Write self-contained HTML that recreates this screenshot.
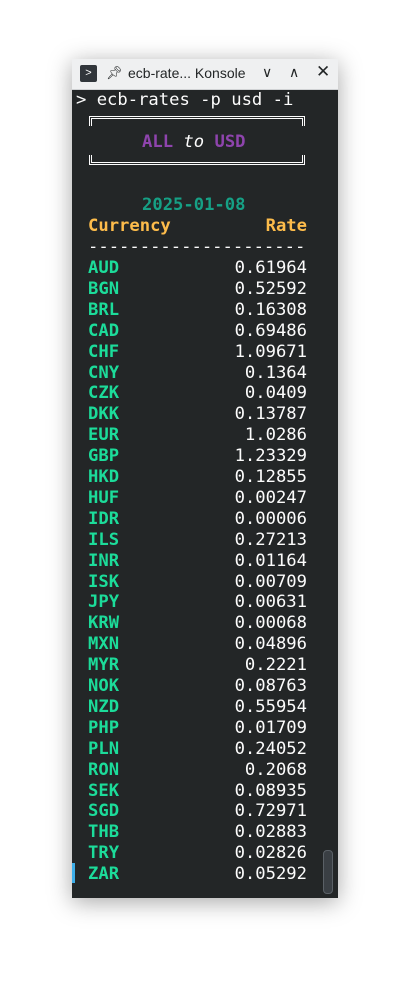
<!DOCTYPE html>
<html><head><meta charset="utf-8">
<style>
body{margin:0;width:411px;height:984px;background:#fff;position:relative;overflow:hidden;font-family:"Liberation Sans",sans-serif}
#win{position:absolute;left:72px;top:59px;width:266px;height:839px;box-shadow:0 4px 22px rgba(0,0,0,0.35);background:#232627}
#title{position:absolute;left:0;top:0;width:266px;height:30px;background:#eff0f1;border-bottom:1px solid #d0d2d4}
.t{position:absolute;font-family:"DejaVu Sans Mono","Liberation Mono",monospace;font-size:17.2px;line-height:21px;white-space:pre;color:#fcfcfc}
.cur{color:#1cdc9a;font-weight:bold}
.hd{color:#fdbc4b;font-weight:bold}
</style></head><body>
<div id="win">
 <div id="title">
  <div style="position:absolute;left:8px;top:6px;width:17px;height:17px;background:#31363b;border-radius:2px;color:#fff;font-size:11px;line-height:17px;text-align:center">&gt;</div>
  <div style="position:absolute;left:34px;top:6px;font-size:13px;color:#232627">📌&#xFE0E;</div>
  <div style="position:absolute;left:56px;top:6px;font-size:14px;color:#232627">ecb-rate... Konsole</div>
  <div style="position:absolute;left:190px;top:5px;font-size:14px;color:#232627">&#x2228;</div>
  <div style="position:absolute;left:217px;top:5px;font-size:14px;color:#232627">&#x2227;</div>
  <div style="position:absolute;left:244px;top:3px;font-size:17px;color:#232627">✕</div>
 </div>
</div>
<div class="t" style="left:76px;top:90px">&gt; ecb-rates -p usd -i</div>
<div style="position:absolute;left:89px;top:116px;width:210px;height:7px;border:3px double #fcfcfc;border-bottom:none"></div>
<div style="position:absolute;left:89px;top:155px;width:210px;height:7px;border:3px double #fcfcfc;border-top:none"></div>
<div class="t" style="left:142px;top:132px"><b style="color:#8e44ad">ALL</b> <i>to</i> <b style="color:#8e44ad">USD</b></div>
<div class="t" style="left:142px;top:195px;color:#16a085;font-weight:bold">2025-01-08</div>
<div class="t hd" style="left:88px;top:216px">Currency</div>
<div class="t hd" style="left:88px;top:216px;width:219px;text-align:right">Rate</div>
<div class="t" style="left:88px;top:237px;width:219px;overflow:hidden">---------------------</div>
<div id="rows"></div>
<div style="position:absolute;left:323px;top:850px;width:8px;height:42px;border-radius:4px;background:#3a3f44;border:1px solid #5a6066"></div>
<div style="position:absolute;left:72px;top:863px;width:3px;height:20px;background:#3daee9"></div>
<script>
const codes=["AUD","BGN","BRL","CAD","CHF","CNY","CZK","DKK","EUR","GBP","HKD","HUF","IDR","ILS","INR","ISK","JPY","KRW","MXN","MYR","NOK","NZD","PHP","PLN","RON","SEK","SGD","THB","TRY","ZAR"];
const rates=["0.61964","0.52592","0.16308","0.69486","1.09671","0.1364","0.0409","0.13787","1.0286","1.23329","0.12855","0.00247","0.00006","0.27213","0.01164","0.00709","0.00631","0.00068","0.04896","0.2221","0.08763","0.55954","0.01709","0.24052","0.2068","0.08935","0.72971","0.02883","0.02826","0.05292"];
const rows=document.getElementById('rows');
codes.forEach((c,i)=>{
  const top=258+i*20.9;
  const a=document.createElement('div');a.className='t cur';
  
  
  a.style.left='88px';a.style.top=top+'px';a.textContent=c;rows.appendChild(a);
  const b=document.createElement('div');b.className='t';
  
  
  b.style.left='88px';b.style.width='219px';b.style.textAlign='right';b.style.top=top+'px';b.textContent=rates[i];rows.appendChild(b);
});
</script>
</body></html>
